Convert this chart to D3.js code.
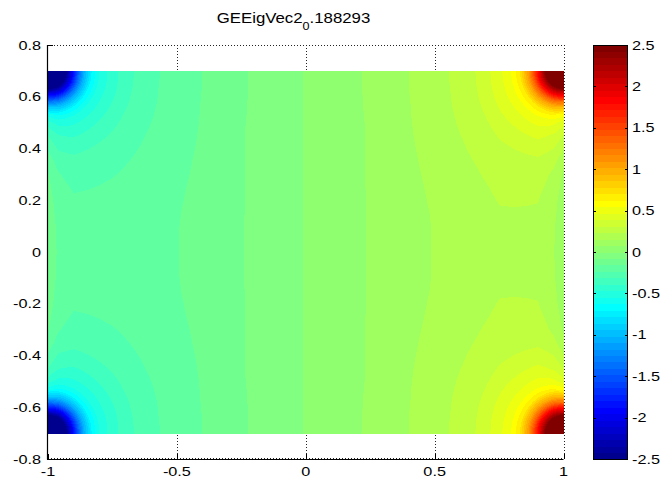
<!DOCTYPE html>
<html><head><meta charset="utf-8">
<script src="https://cdn.jsdelivr.net/npm/d3@7"></script>
<style>
body{margin:0;background:#fff}
svg{display:block}
text{font-family:"Liberation Sans",Arial,Helvetica,sans-serif;fill:#000}
</style>
</head><body>
<svg id="chart" width="663" height="479"></svg>
<script>
// ---------------- data ----------------
const titleMain = "GEEigVec2", titleSub = "0", titleTail = ".188293";
const xTicks = [-1, -0.5, 0, 0.5, 1];
const yTicks = [-0.8, -0.6, -0.4, -0.2, 0, 0.2, 0.4, 0.6, 0.8];
const cbTicks = [-2.5, -2, -1.5, -1, -0.5, 0, 0.5, 1, 1.5, 2, 2.5];
const fieldX = [-1, 1];          // extent of the sampled field in x
const fieldY = [-0.7, 0.7];      // extent of the sampled field in y
const colorLimits = [-2.5, 2.5];
// background level of the field across x (read along the middle row)
const bgX = [-1, -0.96, -0.9, -0.75, -0.5, -0.25, 0, 0.25, 0.5, 0.75, 0.9, 0.96, 1];
const bgV = [0.03, -0.05, -0.084, -0.093, -0.088, -0.044, 0.004, 0.046, 0.09, 0.113, 0.094, 0.041, -0.04];
// corner singularities and their radial profile (read from the rings)
const cornerX = [-1, -1, 1, 1];
const cornerY = [0.7, -0.7, 0.7, -0.7];
const cornerSign = [-1, -1, 1, 1];
const profR = [0, 0.03, 0.06, 0.08, 0.1, 0.12, 0.14, 0.17, 0.2, 0.25, 0.3, 0.35, 0.4, 0.5, 0.6, 0.7, 0.8, 1.0, 1.2, 1.4];
const profP = [3.6, 3.2, 2.65, 2.2, 1.75, 1.3, 0.95, 0.6, 0.45, 0.33, 0.26, 0.2, 0.16, 0.115, 0.085, 0.06, 0.042, 0.02, 0.008, 0];

// ---------------- setup ----------------
const svg = d3.select("#chart");
const xs = d3.scaleLinear().domain([-1, 1]).range([48, 563.5]);
const ys = d3.scaleLinear().domain([-0.8, 0.8]).range([459, 45]);
const cbY = d3.scaleLinear().domain(colorLimits).range([459, 45]);
const cbX0 = 593, cbX1 = 628;
const nColors = 64;
const cIndex = d3.scaleQuantize().domain(colorLimits).range(d3.range(nColors));
function u(k){ if(k<1||k>47) return 0; if(k<=16) return k/16; if(k<=31) return 1; return (48-k)/16; }
function jet(i0){ const i=i0+1; return d3.rgb(Math.round(255*u(i-24)), Math.round(255*u(i-8)), Math.round(255*u(i+8))).toString(); }
const bgScale = d3.scaleLinear().domain(bgX).range(bgV).clamp(true);
const profScale = d3.scaleLinear().domain(profR).range(profP).clamp(true);
function field(x, y){
  let v = bgScale(x);
  for (let k=0;k<cornerX.length;k++){
    const r = Math.hypot(x-cornerX[k], y-cornerY[k]);
    v += cornerSign[k]*profScale(r);
  }
  return v;
}
const SX = 1.3; // horizontal stretch of glyphs in the reference
const fmt = d => String(d);

// ---------------- grid (dotted) ----------------
const grid = svg.append("g").attr("stroke","#222").attr("stroke-width",1).attr("stroke-dasharray","1,2");
grid.selectAll(".gx").data(xTicks.filter(d=>d>-1)).join("line")
  .attr("x1",d=>Math.round(xs(d))+0.5).attr("x2",d=>Math.round(xs(d))+0.5)
  .attr("y1",ys(0.8)).attr("y2",ys(-0.8));
grid.selectAll(".gy").data(yTicks).join("line")
  .attr("y1",d=>Math.round(ys(d))+0.5 - (d===-0.8?1:0)).attr("y2",d=>Math.round(ys(d))+0.5 - (d===-0.8?1:0))
  .attr("x1",xs(-1)).attr("x2",xs(1));

// ---------------- ticks ----------------
const tk = svg.append("g").attr("stroke","#000").attr("stroke-width",1);
tk.selectAll(".tx").data(xTicks).join("line")
  .attr("x1",d=>Math.round(xs(d))+0.5).attr("x2",d=>Math.round(xs(d))+0.5)
  .attr("y1",ys(-0.8)).attr("y2",ys(-0.8)-5);
tk.selectAll(".ty").data(yTicks).join("line")
  .attr("y1",d=>Math.round(ys(d))+0.5).attr("y2",d=>Math.round(ys(d))+0.5)
  .attr("x1",xs(-1)).attr("x2",xs(-1)+5);

// ---------------- field image ----------------
const nx = Math.round(xs(fieldX[1]) - xs(fieldX[0]));
const ny = Math.round(ys(fieldY[0]) - ys(fieldY[1]));
const dx = (fieldX[1]-fieldX[0])/nx, dy = (fieldY[1]-fieldY[0])/ny;
const runs = [];
for (let j=0;j<ny;j++){
  const yTop = fieldY[1] - j*dy, yc = yTop - dy/2;
  let start = 0, cur = cIndex(field(fieldX[0]+dx/2, yc));
  for (let i=1;i<=nx;i++){
    const c = i<nx ? cIndex(field(fieldX[0]+(i+0.5)*dx, yc)) : -1;
    if (c!==cur){
      runs.push({x0: fieldX[0]+start*dx, x1: fieldX[0]+i*dx, y0: yTop, y1: yTop-dy, c: cur});
      start = i; cur = c;
    }
  }
}
svg.append("g").attr("shape-rendering","crispEdges").selectAll("rect").data(runs).join("rect")
  .attr("x",d=>xs(d.x0)).attr("width",d=>xs(d.x1)-xs(d.x0)+0.4)
  .attr("y",d=>ys(d.y0)).attr("height",d=>ys(d.y1)-ys(d.y0)+0.4)
  .attr("fill",d=>jet(d.c));

// ---------------- axis lines ----------------
svg.append("line").attr("x1",xs(-1)-0.5).attr("x2",xs(-1)-0.5).attr("y1",ys(0.8)).attr("y2",ys(-0.8)+0.5)
  .attr("stroke","#000").attr("stroke-width",1.2);
svg.append("line").attr("x1",xs(-1)-1).attr("x2",xs(1)).attr("y1",ys(-0.8)+0.5).attr("y2",ys(-0.8)+0.5)
  .attr("stroke","#000").attr("stroke-width",1.2);

// ---------------- tick labels ----------------
svg.append("g").selectAll("text").data(xTicks).join("text")
  .attr("transform",d=>`translate(${xs(d)},475.5) scale(${SX},1)`)
  .attr("text-anchor","middle").attr("font-size",12.5).text(fmt);
svg.append("g").selectAll("text").data(yTicks).join("text")
  .attr("transform",d=>`translate(41,${ys(d)+4.5}) scale(${SX},1)`)
  .attr("text-anchor","end").attr("font-size",12.5).text(fmt);

// ---------------- colorbar ----------------
const levels = d3.range(nColors);
const lvStep = (colorLimits[1]-colorLimits[0])/nColors;
svg.append("g").attr("shape-rendering","crispEdges").selectAll("rect").data(levels).join("rect")
  .attr("x",cbX0).attr("width",cbX1-cbX0)
  .attr("y",d=>cbY(colorLimits[0]+(d+1)*lvStep)).attr("height",d=>cbY(colorLimits[0]+d*lvStep)-cbY(colorLimits[0]+(d+1)*lvStep)+0.5)
  .attr("fill",d=>jet(d));
svg.append("rect").attr("x",cbX0+0.5).attr("y",cbY(2.5)+0.5).attr("width",cbX1-cbX0-1).attr("height",cbY(-2.5)-cbY(2.5))
  .attr("fill","none").attr("stroke","#000").attr("stroke-width",1);
const cbt = svg.append("g").attr("stroke","#000").attr("stroke-width",1);
cbt.selectAll(".l").data(cbTicks).join("line")
  .attr("x1",cbX0).attr("x2",cbX0+3).attr("y1",d=>Math.round(cbY(d))+0.5).attr("y2",d=>Math.round(cbY(d))+0.5);
cbt.selectAll(".r").data(cbTicks).join("line")
  .attr("x1",cbX1-3).attr("x2",cbX1).attr("y1",d=>Math.round(cbY(d))+0.5).attr("y2",d=>Math.round(cbY(d))+0.5);
svg.append("g").selectAll("text").data(cbTicks).join("text")
  .attr("transform",d=>`translate(632,${cbY(d)+4.5}) scale(${SX},1)`)
  .attr("text-anchor","start").attr("font-size",12.5).text(fmt);

// ---------------- title ----------------
const t = svg.append("text").attr("transform",`translate(293.5,23) scale(1.2,1)`)
  .attr("text-anchor","middle").attr("font-size",14);
t.append("tspan").text(titleMain);
t.append("tspan").attr("dy",6.5).attr("font-size",10.5).text(titleSub);
t.append("tspan").attr("dy",-6.5).text(titleTail);
</script>
</body></html>
